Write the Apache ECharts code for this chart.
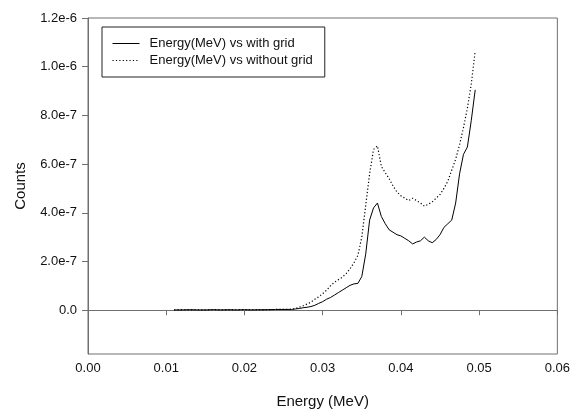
<!DOCTYPE html>
<html>
<head>
<meta charset="utf-8">
<script src="https://cdn.jsdelivr.net/npm/echarts@6/dist/echarts.min.js"></script>
<style>
  html, body { margin: 0; padding: 0; background: #fff; }
  #chart { width: 573px; height: 414px; }
</style>
</head>
<body>
<div id="chart"></div>
<script>
// energy (MeV)
var energy = [
  0.011, 0.012, 0.013, 0.014, 0.015, 0.016, 0.017, 0.018, 0.019, 0.020,
  0.021, 0.022, 0.023, 0.024, 0.025, 0.026,
  0.0265, 0.027, 0.0275, 0.028, 0.0285, 0.029, 0.0295, 0.030, 0.0305, 0.031,
  0.0315, 0.032, 0.0325, 0.033, 0.0335, 0.034, 0.0345, 0.035, 0.0355, 0.036,
  0.0365, 0.037, 0.0375, 0.038, 0.0385, 0.039, 0.0395, 0.040, 0.0405, 0.041,
  0.0415, 0.042, 0.0425, 0.043, 0.0435, 0.044, 0.0445, 0.045, 0.0455, 0.046,
  0.0465, 0.047, 0.0475, 0.048, 0.0485, 0.049, 0.0495
];
// counts, in units of 1e-7
var withGrid = [
  0.01, 0.01, 0.02, 0.01, 0.01, 0.02, 0.01, 0.02, 0.01, 0.02,
  0.01, 0.02, 0.02, 0.03, 0.03, 0.03,
  0.05, 0.07, 0.10, 0.12, 0.15, 0.20, 0.28, 0.35, 0.45, 0.52,
  0.62, 0.72, 0.82, 0.92, 1.02, 1.08, 1.10, 1.38, 2.30, 3.70,
  4.20, 4.40, 3.85, 3.55, 3.30, 3.20, 3.10, 3.05, 2.95, 2.85,
  2.72, 2.80, 2.85, 3.00, 2.85, 2.77, 2.90, 3.10, 3.40, 3.55,
  3.70, 4.40, 5.60, 6.40, 6.70, 7.80, 9.05
];
var withoutGrid = [
  0.01, 0.02, 0.01, 0.02, 0.01, 0.02, 0.02, 0.01, 0.02, 0.02,
  0.02, 0.01, 0.02, 0.03, 0.03, 0.04,
  0.06, 0.12, 0.18, 0.25, 0.33, 0.45, 0.55, 0.68, 0.82, 1.00,
  1.15, 1.25, 1.35, 1.50, 1.70, 1.95, 2.25, 3.00, 4.30, 5.60,
  6.60, 6.75, 5.90, 5.65, 5.40, 5.10, 4.85, 4.70, 4.60, 4.50,
  4.60, 4.50, 4.40, 4.27, 4.35, 4.45, 4.60, 4.75, 5.00, 5.30,
  5.75, 6.20, 6.80, 7.50, 8.30, 9.30, 10.65
];
var yTickValues = [0, 2, 4, 6, 8, 10, 12];
var yTickLabels = ['0.0', '2.0e-7', '4.0e-7', '6.0e-7', '8.0e-7', '1.0e-6', '1.2e-6'];

function pairs(xs, ys) {
  return xs.map(function (x, i) { return [x, ys[i]]; });
}

var axisColor = '#707070';
var font = 'Liberation Sans, Arial, sans-serif';

var chart = echarts.init(document.getElementById('chart'));
chart.setOption({
  animation: false,
  textStyle: { fontFamily: font },
  grid: {
    left: 88, right: 13, top: 18, bottom: 57,
    show: true, borderColor: axisColor, borderWidth: 1
  },
  legend: {
    left: 102, top: 27,
    orient: 'vertical',
    itemWidth: 27, itemHeight: 15, itemGap: 4,
    padding: [10, 12, 10, 10],
    borderColor: '#222', borderWidth: 1,
    itemStyle: { opacity: 0 },
    lineStyle: { width: 1 },
    textStyle: { fontSize: 13, color: '#111', fontFamily: font, padding: [0, 0, 0, 5] },
    data: ['Energy(MeV) vs with grid', 'Energy(MeV) vs without grid']
  },
  xAxis: {
    type: 'value',
    min: 0, max: 0.06, interval: 0.01,
    name: 'Energy (MeV)', nameLocation: 'middle', nameGap: 40,
    nameTextStyle: { fontSize: 15, color: '#111', fontFamily: font },
    axisLine: { lineStyle: { color: axisColor } },
    axisTick: { length: 5, lineStyle: { color: axisColor } },
    axisLabel: {
      fontSize: 13, color: '#111', margin: 8,
      formatter: function (v) { return v.toFixed(2); }
    },
    splitLine: { show: false }
  },
  yAxis: {
    type: 'value',
    min: -1.8, max: 12,
    name: 'Counts', nameLocation: 'middle', nameGap: 60,
    nameTextStyle: { fontSize: 15, color: '#111', fontFamily: font },
    axisLine: { show: true, lineStyle: { color: axisColor } },
    axisTick: { show: true, length: 6, customValues: yTickValues, lineStyle: { color: axisColor } },
    axisLabel: {
      fontSize: 13, color: '#111', margin: 11,
      customValues: yTickValues,
      formatter: function (v) {
        var i = yTickValues.indexOf(Math.round(v));
        return i >= 0 ? yTickLabels[i] : '';
      }
    },
    splitLine: { show: false }
  },
  series: [
    {
      name: 'Energy(MeV) vs with grid',
      type: 'line',
      symbol: 'none',
      data: pairs(energy, withGrid),
      lineStyle: { color: '#000', width: 1 },
      itemStyle: { color: '#000' }
    },
    {
      name: 'Energy(MeV) vs without grid',
      type: 'line',
      symbol: 'none',
      data: pairs(energy, withoutGrid),
      lineStyle: { color: '#000', width: 1.2, type: [1.2, 2.2] },
      itemStyle: { color: '#000' }
    }
  ]
});
</script>
</body>
</html>
